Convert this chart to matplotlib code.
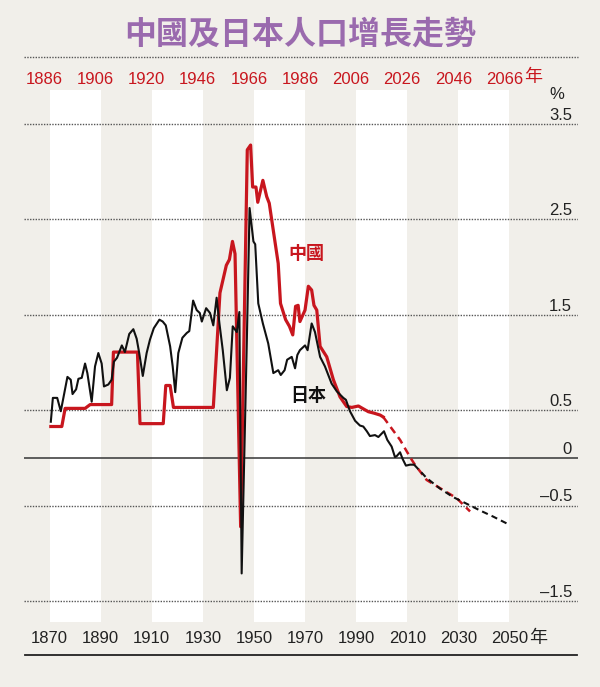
import matplotlib
matplotlib.use("Agg")
import matplotlib.pyplot as plt
import matplotlib.transforms as mtransforms
from matplotlib.lines import Line2D

plt.rcParams["font.family"] = ["Liberation Sans", "Noto Sans CJK TC"]

# ---- data ----
# Japan: annual population growth (%), chart year = Japan year
jp_years = [1870.5, 1871.3, 1873.0, 1874.4, 1877.0, 1878.3, 1879.0, 1880.4, 1881.3,
            1882.6, 1883.9, 1884.8, 1886.5, 1887.8, 1889.1, 1890.4, 1891.3, 1893.0,
            1894.3, 1895.2, 1896.4, 1898.3, 1899.5, 1901.2, 1902.8, 1904.1, 1905.1,
            1906.5, 1908.0, 1909.3, 1910.8, 1913.0, 1914.3, 1915.5, 1917.2, 1918.2,
            1919.2, 1920.4, 1922.0, 1923.7, 1924.7, 1926.2, 1927.6, 1928.8, 1929.6,
            1931.3, 1932.8, 1934.1, 1935.4, 1936.5, 1937.8, 1939.4, 1940.6, 1941.7,
            1943.3, 1944.3, 1945.2, 1947.2, 1948.3, 1949.8, 1950.5, 1951.7, 1953.5,
            1955.6, 1957.6, 1959.5, 1960.5, 1962.0, 1963.0, 1964.8, 1966.1, 1967.0,
            1968.0, 1970.0, 1971.0, 1972.6, 1973.9, 1975.9, 1977.8, 1980.4, 1982.4,
            1985.0, 1986.0, 1987.6, 1989.6, 1991.5, 1992.8, 1994.2, 1995.4, 1997.4,
            1998.7, 1999.8, 2000.9, 2002.2, 2003.9, 2005.2, 2005.9, 2007.2, 2008.2,
            2009.5, 2011.1, 2012.7]
jp_growth = [0.38, 0.63, 0.63, 0.49, 0.85, 0.82, 0.67, 0.72, 0.83,
             0.84, 0.99, 0.89, 0.59, 0.96, 1.10, 0.99, 0.75, 0.77,
             0.82, 1.01, 1.05, 1.18, 1.11, 1.30, 1.35, 1.25, 1.10,
             0.86, 1.10, 1.24, 1.36, 1.45, 1.43, 1.39, 1.17, 0.96,
             0.69, 1.10, 1.26, 1.31, 1.33, 1.65, 1.55, 1.52, 1.43,
             1.57, 1.52, 1.39, 1.68, 1.41, 1.13, 0.71, 0.84, 1.38,
             1.32, 1.53, -1.21, 1.20, 2.62, 2.27, 2.24, 1.62, 1.41,
             1.20, 0.89, 0.92, 0.87, 0.92, 1.03, 1.06, 0.94, 1.08,
             1.13, 1.18, 1.13, 1.41, 1.32, 1.06, 0.96, 0.78, 0.70,
             0.63, 0.61, 0.49, 0.39, 0.34, 0.33, 0.28, 0.23, 0.24,
             0.22, 0.25, 0.28, 0.19, 0.12, 0.01, 0.02, 0.06, -0.01,
             -0.08, -0.07, -0.07]
jp_proj_years = [2012.7, 2017.6, 2022.8, 2028.0, 2033.3, 2038.5, 2043.7, 2050.0]
jp_proj_growth = [-0.07, -0.21, -0.32, -0.41, -0.48, -0.55, -0.615, -0.70]

# China: annual population growth (%), in China years (top axis)
cn_years = [1886.5, 1890.8, 1892.1, 1899.9, 1901.9, 1910.3, 1911.0, 1920.4, 1921.4,
            1930.5, 1931.5, 1933.2, 1934.5, 1950.1, 1952.7, 1955.2, 1956.4, 1957.6,
            1958.6, 1960.8, 1963.4, 1964.7, 1965.5, 1966.8, 1967.5, 1969.5, 1971.0,
            1972.0, 1975.5, 1976.4, 1978.4, 1979.9, 1981.2, 1982.3, 1983.3, 1984.0,
            1986.0, 1987.3, 1988.6, 1989.5, 1990.6, 1991.9, 1994.5, 1997.1, 1999.7,
            2002.3, 2004.3, 2006.9, 2008.5, 2010.8, 2013.0, 2015.4, 2016.6]
cn_growth = [0.33, 0.33, 0.52, 0.52, 0.56, 0.56, 1.11, 1.11, 0.36,
             0.36, 0.76, 0.76, 0.53, 0.53, 1.73, 2.02, 2.08, 2.27,
             2.14, -0.72, 3.23, 3.28, 2.84, 2.84, 2.68, 2.91, 2.74,
             2.67, 2.04, 1.62, 1.45, 1.38, 1.29, 1.59, 1.60, 1.43,
             1.55, 1.80, 1.76, 1.60, 1.55, 1.17, 1.06, 0.82, 0.64,
             0.54, 0.53, 0.545, 0.52, 0.485, 0.47, 0.45, 0.43]
cn_proj_years = [2016.6, 2019.9, 2023.2, 2025.8, 2027.8, 2029.0, 2033.6, 2040.0, 2045.3, 2050.6]
cn_proj_growth = [0.43, 0.31, 0.19, 0.07, -0.02, -0.07, -0.23, -0.335, -0.42, -0.56]
CN_SHIFT = 16  # China is drawn 16 years earlier than Japan

jp_tick_years = [1870, 1890, 1910, 1930, 1950, 1970, 1990, 2010, 2030, 2050]
jp_tick_labels = ["1870", "1890", "1910", "1930", "1950", "1970", "1990", "2010", "2030", "2050"]
cn_tick_labels = ["1886", "1906", "1920", "1946", "1966", "1986", "2006", "2026", "2046", "2066"]

grid_values = [3.5, 2.5, 1.5, 0.5, -0.5, -1.5]
y_labels = {3.5: "3.5", 2.5: "2.5", 1.5: "1.5", 0.5: "0.5", 0: "0",
            -0.5: "\u20130.5", -1.5: "\u20131.5"}

# ---- style ----
BG = "#f1efea"
RED = "#c8161e"
BLACK = "#111111"
PURPLE = "#9a6aae"
GRID = "#555555"

W, H = 600, 687
fig = plt.figure(figsize=(W / 100, H / 100), dpi=100)
fig.patch.set_facecolor(BG)
ax = fig.add_axes([24 / W, 1 - 622 / H, 554 / W, 532 / H])
ax.set_facecolor(BG)
ax.set_xlim(1860.0, 2076.85)
ax.set_ylim(-1.719, 3.857)

# white bands every other 20 years
for a, b in zip(jp_tick_years[0::2], jp_tick_years[1::2]):
    ax.axvspan(a, b, color="white", lw=0, zorder=0)

for v in grid_values:
    ax.axhline(v, color=GRID, lw=1.0, ls=(0, (1, 1)), zorder=1)
ax.axhline(0, color="#444444", lw=1.2, zorder=1)

for v, lab in y_labels.items():
    ax.text(2074.5, v + 0.045, lab, ha="right", va="baseline", fontsize=12,
            color="#222222", zorder=3)
ax.text(2068.6, 3.805, "%", ha="center", va="center", fontsize=12, color="#222222")

# lines
cn_x = [y - CN_SHIFT for y in cn_years]
cn_px = [y - CN_SHIFT for y in cn_proj_years]
ax.plot(jp_years, jp_growth, color=BLACK, lw=1.5, zorder=4)
ax.plot(cn_x, cn_growth, color=RED, lw=2.3, zorder=3)
ax.plot(cn_px, cn_proj_growth, color=RED, lw=1.8, ls=(0, (3, 2)), zorder=3)
ax.plot(jp_proj_years, jp_proj_growth, color=BLACK, lw=1.5, ls=(0, (3, 2)), zorder=4)

ax.text(1970.6, 2.14, "中國", color=RED, fontsize=13, weight="bold",
        ha="center", va="center", family="Noto Sans CJK TC")
ax.text(1971.2, 0.65, "日本", color=BLACK, fontsize=13, weight="bold",
        ha="center", va="center", family="Noto Sans CJK TC")

# bottom axis (Japan)
ax.set_yticks([])
ax.set_xticks(jp_tick_years)
ax.set_xticklabels(jp_tick_labels)
ax.tick_params(axis="x", length=0, pad=6.5, labelsize=12, labelcolor="#222222")
for s in ax.spines.values():
    s.set_visible(False)

# top axis (China)
ax_top = ax.twiny()
ax_top.set_xlim(ax.get_xlim())
ax_top.set_xticks([y - 2 for y in jp_tick_years])
ax_top.set_xticklabels(cn_tick_labels)
ax_top.tick_params(axis="x", length=0, pad=2.5, labelsize=12, labelcolor=RED)
for s in ax_top.spines.values():
    s.set_visible(False)

bottom_tr = mtransforms.blended_transform_factory(ax.transData, ax.transAxes)
ax.text(2061.3, -16 / 532, "年", transform=bottom_tr, ha="center", va="center",
        fontsize=13, color="#222222", family="Noto Sans CJK TC")
ax.text(2059.3, 1 + 13 / 532, "年", transform=bottom_tr, ha="center", va="center",
        fontsize=13, color=RED, family="Noto Sans CJK TC")

# title and rules
fig.text(0.5, 1 - 35 / H, "中國及日本人口增長走勢", ha="center", va="center",
         fontsize=23, weight="bold", color=PURPLE, family="Noto Sans CJK TC")
fig.add_artist(Line2D([24 / W, 578 / W], [1 - 57 / H] * 2, color=GRID, lw=1.0,
                      ls=(0, (1, 1))))
fig.add_artist(Line2D([25 / W, 577 / W], [1 - 655 / H] * 2, color="#222222", lw=1.3))

fig.savefig("out.png", dpi=100, facecolor=BG)
